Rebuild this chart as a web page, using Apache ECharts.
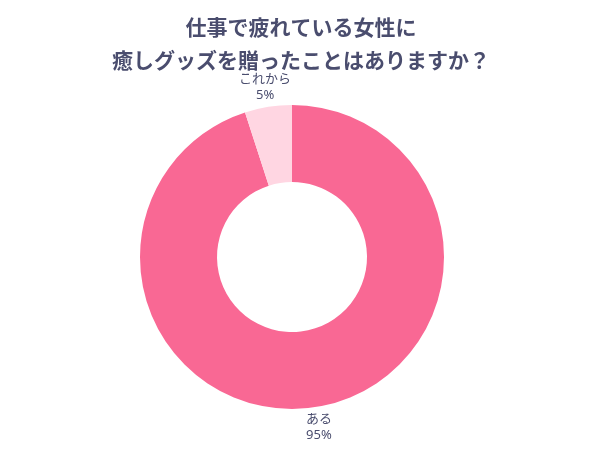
<!DOCTYPE html>
<html><head><meta charset="utf-8">
<script src="https://cdn.jsdelivr.net/npm/echarts@6/dist/echarts.min.js"></script>
<style>html,body{margin:0;padding:0;background:#fff}#c{width:602px;height:451px}</style>
</head><body><div id="c"></div>
<script>
var titleLines = ['仕事で疲れている女性に', '癒しグッズを贈ったことはありますか？'];
var categories = ['ある', 'これから'];
var values = [95, 5];
var colors = ['#f96894', '#ffd6e2'];

var chart = echarts.init(document.getElementById('c'));
chart.setOption({
  backgroundColor: '#ffffff',
  animation: false,
  title: {
    text: titleLines.join('\n'),
    left: 'center',
    top: 6,
    textStyle: {
      fontFamily: '"Noto Sans CJK JP", sans-serif',
      fontSize: 21,
      fontWeight: 'bold',
      color: '#4a4d6e',
      lineHeight: 33
    }
  },
  series: [{
    type: 'pie',
    center: [292, 257],
    radius: [75, 152],
    startAngle: 90,
    clockwise: true,
    silent: true,
    data: categories.map(function (c, i) {
      return { name: c, value: values[i], itemStyle: { color: colors[i] } };
    }),
    label: {
      show: true,
      position: 'outside',
      formatter: '{b}\n{d}%',
      fontFamily: '"Noto Sans", "Noto Sans CJK JP", sans-serif',
      fontSize: 13,
      lineHeight: 16,
      color: '#4a4d6e'
    },
    labelLine: { show: false, length: 20, length2: 0 },
    labelLayout: function (p) {
      var pts = p.labelLinePoints;
      var last = pts[pts.length - 1];
      return { x: last[0], y: last[1], align: 'center', verticalAlign: 'middle' };
    }
  }]
});
</script></body></html>
